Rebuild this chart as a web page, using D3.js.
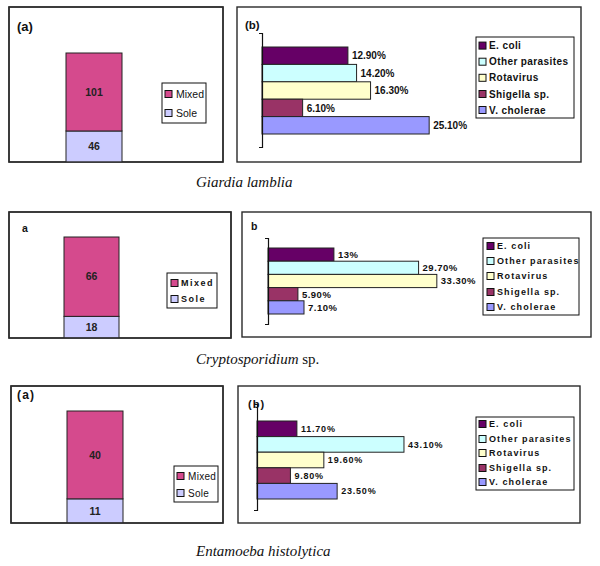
<!DOCTYPE html>
<html><head><meta charset="utf-8">
<script src="https://cdn.jsdelivr.net/npm/d3@7"></script>
<style>body{margin:0;background:#fff}</style>
</head><body>
<svg id="c" width="600" height="566"></svg>
<script>
// ---- data ----
const organisms = ["Giardia lamblia", "Cryptosporidium", "Entamoeba histolytica"];
const captionSuffix = ["", " sp.", ""];
const infectionTypes = ["Mixed", "Sole"];
const mixedCounts = [101, 66, 40];
const soleCounts = [46, 18, 11];
const pathogens = ["E. coli", "Other parasites", "Rotavirus", "Shigella sp.", "V. cholerae"];
const giardiaPct = [12.9, 14.2, 16.3, 6.1, 25.1];
const cryptoPct = [13, 29.7, 33.3, 5.9, 7.1];
const entamoebaPct = [11.7, 43.1, 19.6, 9.8, 23.5];
const panelLabelsA = ["(a)", "a", "(a)"];
const panelLabelsB = ["(b)", "b", "(b)"];
const pctSeries = [giardiaPct, cryptoPct, entamoebaPct];

// ---- styles ----
const typeColors = {Mixed: "#d54a8d", Sole: "#ccccff"};
const pathogenColors = ["#660066", "#ccffff", "#ffffcc", "#993366", "#9999ff"];
const FONT = "Liberation Sans, Arial, sans-serif";

// ---- layout ----
const rows = [
  { a: {x0: 9, y0: 7, x1: 223, y1: 162, lab: [17, 31, 13, 0], barX: [66, 122], yBase: 166.5, yTop: 53, valFs: 10.5,
        leg: {x0: 162, y0: 83, x1: 206, y1: 123, ys: [94, 113], sw: 165, tx: 176, fs: 10.5, fw: "normal", ls: 0}},
    b: {x0: 237, y0: 7, x1: 581, y1: 162, lab: [245, 29, 11.5, 0], axX: 262, axY: [33, 147], bars: [47, 134], k: 6.66, valFs: 10, valLs: 0,
        leg: {x0: 476, y0: 37, x1: 574, y1: 118, ys: [45.6, 61.7, 77.8, 94, 110], sw: 479, tx: 489, fs: 10, fw: "bold", ls: 0.4}},
    cap: {x: 196, y: 187} },
  { a: {x0: 9, y0: 212, x1: 231, y1: 338, lab: [22, 232, 10.5, 0], barX: [64, 119], yBase: 338, yTop: 237, valFs: 10.5,
        leg: {x0: 167, y0: 273, x1: 217, y1: 308, ys: [283, 299], sw: 171, tx: 181, fs: 9, fw: "bold", ls: 1.5}},
    b: {x0: 242, y0: 212, x1: 591, y1: 337, lab: [251, 230, 10.5, 0], axX: 268, axY: [238, 324], bars: [248, 314], k: 5.07, valFs: 9.5, valLs: 0.5,
        leg: {x0: 483, y0: 238, x1: 579, y1: 315, ys: [246, 261, 276, 292, 307], sw: 487, tx: 497, fs: 9, fw: "bold", ls: 1.1}},
    cap: {x: 196, y: 364} },
  { a: {x0: 11, y0: 386, x1: 223, y1: 523, lab: [17, 399, 12, 1.2], barX: [67, 123], yBase: 523, yTop: 411, valFs: 10.5,
        leg: {x0: 174, y0: 466, x1: 218, y1: 502, ys: [476, 493], sw: 177, tx: 188, fs: 10, fw: "normal", ls: 0.3}},
    b: {x0: 238, y0: 386, x1: 580, y1: 523, lab: [248, 408, 11, 1], axX: 257, axY: [404, 510], bars: [421, 499], k: 3.41, valFs: 9, valLs: 0.8,
        leg: {x0: 476, y0: 417, x1: 574, y1: 490, ys: [424, 439, 453, 468, 482], sw: 479, tx: 489, fs: 9, fw: "bold", ls: 1.1}},
    cap: {x: 196, y: 556} }
];

const svg = d3.select("#c");
const defs = svg.append("defs");

function fmtPct(v) { return (Number.isInteger(v) ? v : v.toFixed(2)) + "%"; }

function frame(g, L) {
  g.append("rect").attr("x", L.x0).attr("y", L.y0).attr("width", L.x1 - L.x0).attr("height", L.y1 - L.y0)
    .attr("fill", "#fff").attr("stroke", "#2a2a2a").attr("stroke-width", 1.4);
}

function legend(g, L, names, colors) {
  const lg = g.append("g");
  lg.append("rect").attr("x", L.x0).attr("y", L.y0).attr("width", L.x1 - L.x0).attr("height", L.y1 - L.y0)
    .attr("fill", "#fff").attr("stroke", "#111").attr("stroke-width", 1);
  names.forEach((n, j) => {
    lg.append("rect").attr("x", L.sw).attr("y", L.ys[j] - 3.5).attr("width", 7).attr("height", 7)
      .attr("fill", colors[j]).attr("stroke", "#111").attr("stroke-width", 1);
    lg.append("text").attr("x", L.tx).attr("y", L.ys[j]).attr("dy", "0.36em")
      .attr("font-family", FONT).attr("font-size", L.fs).attr("font-weight", L.fw)
      .attr("letter-spacing", L.ls).attr("fill", "#111").text(n);
  });
}

rows.forEach((R, i) => {
  // ---------- panel (a): stacked column ----------
  const A = R.a;
  const ga = svg.append("g");
  frame(ga, A);
  ga.append("text").attr("x", A.lab[0]).attr("y", A.lab[1]).attr("font-family", FONT).attr("font-weight", "bold")
    .attr("font-size", A.lab[2]).attr("letter-spacing", A.lab[3]).attr("fill", "#111").text(panelLabelsA[i]);

  const row = {organism: organisms[i], Mixed: mixedCounts[i], Sole: soleCounts[i]};
  const total = row.Mixed + row.Sole;
  const xA = d3.scaleBand().domain([organisms[i]]).range(A.barX).padding(0);
  const yA = d3.scaleLinear().domain([0, total]).range([A.yBase, A.yTop]);
  const stack = d3.stack().keys(["Sole", "Mixed"])([row]);

  const clipId = "clipA" + i;
  defs.append("clipPath").attr("id", clipId).append("rect")
    .attr("x", A.x0).attr("y", A.y0).attr("width", A.x1 - A.x0).attr("height", A.y1 - A.y0);
  const barsA = ga.append("g").attr("clip-path", `url(#${clipId})`);
  stack.forEach(s => {
    const d = s[0];
    barsA.append("rect").attr("x", xA(organisms[i])).attr("width", xA.bandwidth())
      .attr("y", yA(d[1])).attr("height", yA(d[0]) - yA(d[1]))
      .attr("fill", typeColors[s.key]).attr("stroke", "#222").attr("stroke-width", 1);
    const cy = (Math.min(yA(d[0]), A.y1) + yA(d[1])) / 2;
    barsA.append("text").attr("x", xA(organisms[i]) + xA.bandwidth() / 2).attr("y", cy).attr("dy", "0.36em")
      .attr("text-anchor", "middle").attr("font-family", FONT).attr("font-weight", "bold")
      .attr("font-size", A.valFs).attr("fill", "#222").text(d.data[s.key]);
  });
  ga.append("rect").attr("x", A.x0).attr("y", A.y0).attr("width", A.x1 - A.x0).attr("height", A.y1 - A.y0)
    .attr("fill", "none").attr("stroke", "#2a2a2a").attr("stroke-width", 1.4);
  legend(ga, A.leg, infectionTypes, infectionTypes.map(t => typeColors[t]));

  // ---------- panel (b): horizontal bars ----------
  const B = R.b;
  const gb = svg.append("g");
  frame(gb, B);
  const vals = pctSeries[i];
  const yB = d3.scaleBand().domain(pathogens).range(B.bars).padding(0);
  const xB = d3.scaleLinear().domain([0, 50]).range([B.axX, B.axX + 50 * B.k]);

  gb.selectAll("rect.bar").data(pathogens).join("rect").attr("class", "bar")
    .attr("x", xB(0)).attr("y", p => yB(p)).attr("height", yB.bandwidth())
    .attr("width", (p, j) => xB(vals[j]) - xB(0))
    .attr("fill", (p, j) => pathogenColors[j]).attr("stroke", "#222").attr("stroke-width", 1);
  gb.selectAll("text.val").data(pathogens).join("text").attr("class", "val")
    .attr("x", (p, j) => xB(vals[j]) + 4).attr("y", p => yB(p) + yB.bandwidth() / 2).attr("dy", "0.36em")
    .attr("font-family", FONT).attr("font-weight", "bold").attr("font-size", B.valFs)
    .attr("letter-spacing", B.valLs).attr("fill", "#111").text((p, j) => fmtPct(vals[j]));

  // category axis (single category) -> bracket
  const cat = d3.scaleBand().domain([organisms[i]]).range(B.axY);
  const ax = gb.append("g").attr("transform", `translate(${B.axX},0)`)
    .call(d3.axisLeft(cat).tickSizeInner(0).tickSizeOuter(3).tickFormat(""));
  ax.select(".domain").attr("stroke", "#111").attr("stroke-width", 1.2);
  ax.selectAll(".tick").remove();

  gb.append("text").attr("x", B.lab[0]).attr("y", B.lab[1]).attr("font-family", FONT).attr("font-weight", "bold")
    .attr("font-size", B.lab[2]).attr("letter-spacing", B.lab[3]).attr("fill", "#111").text(panelLabelsB[i]);
  legend(gb, B.leg, pathogens, pathogenColors);

  // ---------- caption ----------
  const cap = svg.append("text").attr("x", R.cap.x).attr("y", R.cap.y)
    .attr("font-family", "Liberation Serif, Times New Roman, serif").attr("font-size", 15).attr("fill", "#111");
  cap.append("tspan").attr("font-style", "italic").text(organisms[i]);
  if (captionSuffix[i]) cap.append("tspan").text(captionSuffix[i]);
});
</script>
</body></html>
